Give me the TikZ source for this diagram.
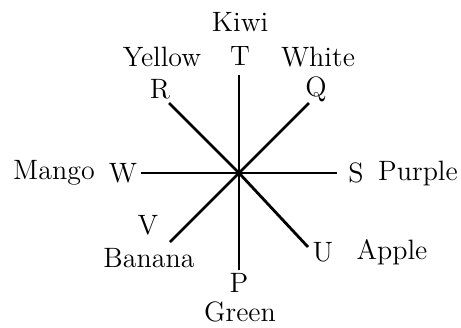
\documentclass[tikz,border=0pt]{standalone}
\usepackage{tikz}
\usetikzlibrary{positioning}

\begin{document}
\begin{tikzpicture}[
    x=0.5pt, y=-0.5pt,
    font=\fontsize{14}{16}\selectfont,
    spoke/.style ={line width=1.4pt, line cap=butt},
    letter/.style={inner sep=0pt, anchor=center},
    word/.style  ={inner sep=0pt, anchor=center},
  ]
  \useasboundingbox (0,0) rectangle (461,327);

  % ---- centre and free ends of the spokes ----
  \coordinate (c)  at (239,173);
  \coordinate (eT) at (239,75);
  \coordinate (eP) at (239,270);
  \coordinate (eW) at (141,173);
  \coordinate (eS) at (337,173);
  \coordinate (eR) at (169,103);
  \coordinate (eQ) at (309,103);
  \coordinate (eV) at (170,242);
  \coordinate (eU) at (308,247);

  % ---- spokes ----
  \foreach \e in {eT,eP,eW,eS,eR,eQ,eV,eU}
    \draw[spoke] (c) -- (\e);

  % ---- letters ----
  \node[letter] (T) at (240,56)  {T};
  \node[letter] (Q) at (316,89)  {Q};
  \node[letter] (R) at (160,89)  {R};
  \node[letter] (W) at (123,173) {W};
  \node[letter] (S) at (356,173) {S};
  \node[letter] (V) at (148,225) {V};
  \node[letter] (U) at (323,252) {U};
  \node[letter] (P) at (239,283) {P};

  % ---- names ----
  \node[word] (kiwi)   at (240,22)  {Kiwi};
  \node[word] (yellow) at (162,57)  {Yellow};
  \node[word] (white)  at (318,57)  {White};
  \node[word] (mango)  at (54,173)  {Mango};
  \node[word] (purple) at (418,173) {Purple};
  \node[word] (banana) at (149,258) {Banana};
  \node[word] (apple)  at (392,252) {Apple};
  \node[word] (green)  at (240,312) {Green};

\end{tikzpicture}
\end{document}
